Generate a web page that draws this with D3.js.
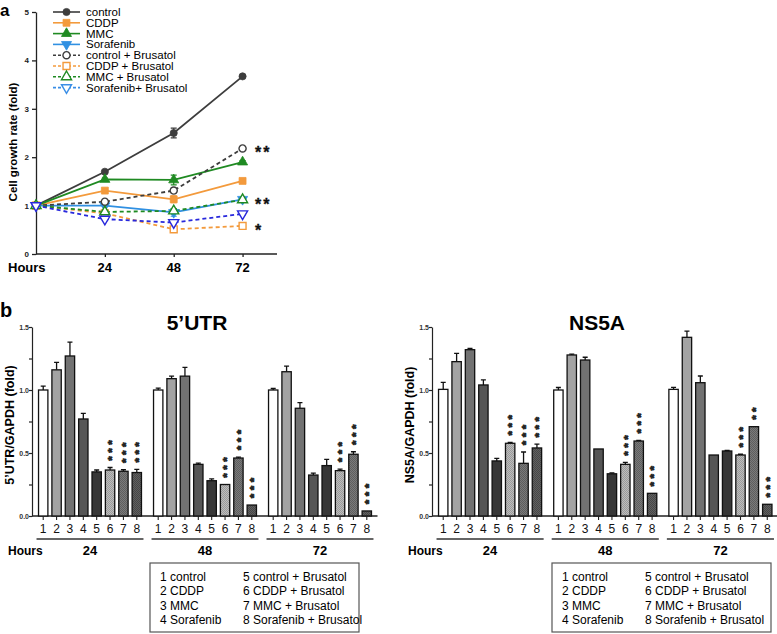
<!DOCTYPE html>
<html><head><meta charset="utf-8">
<script src="https://cdn.jsdelivr.net/npm/d3@7"></script>
<style>
body{margin:0;background:#fff;}
svg{display:block;font-family:"Liberation Sans",Arial,sans-serif;}
</style></head><body>
<script>
// ---------- DATA: panel a (growth curves) ----------
const hours = [0, 24, 48, 72];
const seriesNames = ["control","CDDP","MMC","Sorafenib","control + Brusatol","CDDP + Brusatol","MMC + Brusatol","Sorafenib+ Brusatol"];
const growthControl    = [1, 1.70, 2.50, 3.67];
const growthCDDP       = [1, 1.31, 1.13, 1.51];
const growthMMC        = [1, 1.54, 1.53, 1.90];
const growthSorafenib  = [1, 1.00, 0.86, 1.13];
const growthControlB   = [1, 1.08, 1.31, 2.18];
const growthCDDPB      = [1, 0.84, 0.51, 0.58];
const growthMMCB       = [1, 0.87, 0.89, 1.12];
const growthSorafenibB = [1, 0.72, 0.65, 0.83];
const errControl    = [0, 0.02, 0.10, 0.02];
const errCDDP       = [0, 0.03, 0.07, 0.03];
const errMMC        = [0, 0.03, 0.10, 0.03];
const errSorafenib  = [0, 0.02, 0.08, 0.03];
const errControlB   = [0, 0.02, 0.05, 0.02];
const errCDDPB      = [0, 0.02, 0.03, 0.03];
const errMMCB       = [0, 0.02, 0.05, 0.05];
const errSorafenibB = [0, 0.03, 0.03, 0.02];
const growthYTicks = [0,1,2,3,4,5];
const growthXTicks = [24,48,72];
const growthStars = [{series:4, label:"**"},{series:6, label:"**"},{series:5, label:"*"}];

// ---------- DATA: panel b (bars) ----------
const groupLabels = ["24","48","72"];
const barLabels = ["1","2","3","4","5","6","7","8"];
const utr24 = [1.00,1.16,1.27,0.77,0.35,0.365,0.355,0.345];
const utr48 = [1.00,1.09,1.11,0.41,0.28,0.25,0.46,0.087];
const utr72 = [1.00,1.145,0.855,0.325,0.40,0.36,0.49,0.04];
const utr24Err = [0.03,0.06,0.11,0.045,0.015,0.02,0.012,0.025];
const utr48Err = [0.015,0.02,0.07,0.01,0.015,0,0.008,0];
const utr72Err = [0.012,0.045,0.045,0.015,0.05,0.012,0.02,0];
const utrStars = [[0,0,0,0,0,3,3,3],[0,0,0,0,0,3,3,3],[0,0,0,0,0,3,3,3]];
const ns24 = [1.005,1.225,1.32,1.04,0.437,0.577,0.418,0.54];
const ns48 = [1.00,1.278,1.238,0.532,0.335,0.41,0.595,0.18];
const ns72 = [1.005,1.418,1.058,0.484,0.516,0.484,0.709,0.093];
const ns24Err = [0.055,0.065,0.01,0.04,0.02,0.008,0.09,0.03];
const ns48Err = [0.02,0.007,0.022,0,0.007,0.015,0.005,0];
const ns72Err = [0.016,0.05,0.053,0,0.005,0.006,0,0];
const nsStars = [[0,0,0,0,0,3,3,3],[0,0,0,0,0,3,3,3],[0,0,0,0,0,3,2,3]];
const barYTicks = [0,0.25,0.5,0.75,1.0,1.25,1.5];
const legendCol1 = ["1 control","2 CDDP","3 MMC","4 Sorafenib"];
const legendCol2 = ["5 control + Brusatol","6 CDDP + Brusatol","7 MMC + Brusatol","8 Sorafenib + Brusatol"];

// ---------- DRAW ----------
const W = 777, H = 634;
const svg = d3.select("body").append("svg").attr("width", W).attr("height", H);
const FONT = '"Liberation Sans",Arial,sans-serif';

const defs = svg.append("defs");
function dotPattern(id, base, dot){
  const p = defs.append("pattern").attr("id", id).attr("width", 2).attr("height", 2).attr("patternUnits","userSpaceOnUse");
  p.append("rect").attr("width",2).attr("height",2).attr("fill",base);
  p.append("rect").attr("width",1).attr("height",1).attr("fill",dot);
  p.append("rect").attr("x",1).attr("y",1).attr("width",1).attr("height",1).attr("fill",dot);
}
dotPattern("p6", "#bdbdbd", "#9a9a9a");
dotPattern("p7", "#7a7a7a", "#5e5e5e");
dotPattern("p8", "#606060", "#474747");
const barFills = ["#ffffff","#a3a3a3","#727272","#565656","#373737","url(#p6)","url(#p7)","url(#p8)"];

// ===== Panel a =====
const gSeries = [
  {v:growthControl, e:errControl, color:"#3d3d3d", dash:null, sym:"circle", open:false},
  {v:growthCDDP, e:errCDDP, color:"#f39a3c", dash:null, sym:"square", open:false},
  {v:growthMMC, e:errMMC, color:"#1f8a22", dash:null, sym:"tri", open:false},
  {v:growthSorafenib, e:errSorafenib, color:"#3090e2", dash:null, sym:"triDown", open:false},
  {v:growthControlB, e:errControlB, color:"#3d3d3d", dash:"4,3", sym:"circle", open:true},
  {v:growthCDDPB, e:errCDDPB, color:"#f39a3c", dash:"4,3", sym:"square", open:true},
  {v:growthMMCB, e:errMMCB, color:"#1f8a22", dash:"4,3", sym:"tri", open:true},
  {v:growthSorafenibB, e:errSorafenibB, color:"#2828dc", legendColor:"#3a8ee6", dash:"4,3", sym:"triDown", open:true}
];
const xa = d3.scaleLinear().domain([0,84]).range([36,277]);
const ya = d3.scaleLinear().domain([0,5]).range([254,12]);

svg.append("text").attr("x",0).attr("y",16).attr("font-size",17).attr("font-weight","bold").text("a");

const ayAxis = svg.append("g").attr("transform","translate(36,0)")
  .call(d3.axisLeft(ya).tickValues(growthYTicks).tickSize(4).tickSizeOuter(0).tickFormat(d3.format("d")));
ayAxis.selectAll("text").attr("font-size",8).attr("font-weight","bold").attr("font-family",FONT).attr("fill","#222");
ayAxis.selectAll("path,line").attr("stroke","#222").attr("stroke-width",1.3);
const axAxis = svg.append("g").attr("transform","translate(0,254)")
  .call(d3.axisBottom(xa).tickValues(growthXTicks).tickSize(3).tickSizeOuter(0).tickFormat(""));
axAxis.select("path").attr("d","M36,0H277");
axAxis.selectAll("path,line").attr("stroke","#222").attr("stroke-width",1.3);
growthXTicks.forEach(t=>{
  svg.append("text").attr("x",xa(t)).attr("y",272).attr("text-anchor","middle").attr("font-size",13).attr("font-weight","bold").text(t);
});
svg.append("text").attr("x",8).attr("y",272).attr("font-size",13).attr("font-weight","bold").text("Hours");
svg.append("text").attr("transform","translate(17,142) rotate(-90)").attr("text-anchor","middle")
  .attr("font-size",11.5).attr("font-weight","bold").text("Cell growth rate (fold)");

function symPath(sym){
  if(sym==="circle") return d3.symbol(d3.symbolCircle, 40)();
  if(sym==="square") return d3.symbol(d3.symbolSquare, 48)();
  return d3.symbol(d3.symbolTriangle, 44)();
}
function drawMarker(g, s, x, y){
  g.append("path").attr("d", symPath(s.sym))
    .attr("transform", `translate(${x},${y})` + (s.sym==="triDown" ? " rotate(180)" : ""))
    .attr("fill", s.open ? "#fff" : s.color)
    .attr("stroke", s.color).attr("stroke-width", s.open ? 1.4 : 0.8);
}
const line = d3.line().x((d,i)=>xa(hours[i])).y(d=>ya(d));
const linesG = svg.append("g");
gSeries.forEach(s=>{
  linesG.append("path").attr("d", line(s.v)).attr("fill","none").attr("stroke",s.color)
    .attr("stroke-width",1.8).attr("stroke-dasharray",s.dash);
});
gSeries.forEach(s=>{
  s.v.forEach((v,i)=>{
    if(s.e[i]>0){
      const x = xa(hours[i]);
      linesG.append("path").attr("d",`M${x},${ya(v-s.e[i])}V${ya(v+s.e[i])}M${x-3},${ya(v-s.e[i])}H${x+3}M${x-3},${ya(v+s.e[i])}H${x+3}`)
        .attr("stroke",s.color).attr("stroke-width",1.2).attr("fill","none");
    }
  });
});
gSeries.forEach(s=>{ s.v.forEach((v,i)=> drawMarker(linesG, s, xa(hours[i]), ya(v))); });
growthStars.forEach(st=>{
  const v = gSeries[st.series].v[3];
  svg.append("text").attr("x",255).attr("y",ya(v)+10).attr("font-size",16).attr("font-weight","bold")
    .attr("letter-spacing",2).attr("stroke","#111").attr("stroke-width",0.3).attr("fill","#111").text(st.label);
});
seriesNames.forEach((n,i)=>{
  const s = gSeries[i];
  const y = 12 + i*10.8;
  const col = s.legendColor || s.color;
  const lg = svg.append("g");
  lg.append("line").attr("x1",53).attr("x2",80).attr("y1",y).attr("y2",y).attr("stroke",col)
    .attr("stroke-width",1.6).attr("stroke-dasharray",s.dash ? "3,2" : null);
  drawMarker(lg, Object.assign({}, s, {color: col}), 66.5, y);
  lg.append("text").attr("x",86).attr("y",y).attr("dy","0.35em").attr("font-size",11.5).text(n);
});

// ===== Panel b =====
svg.append("text").attr("x",0).attr("y",317).attr("font-size",20).attr("font-weight","bold").text("b");
const yb = d3.scaleLinear().domain([0,1.5]).range([516,327]);

function drawPanel(o){
  const g = svg.append("g");
  const gx = d3.scaleBand().domain(groupLabels).range(o.range).paddingInner(0.07).paddingOuter(0.035);
  const bx = d3.scaleBand().domain(barLabels).range([0, gx.bandwidth()]).paddingInner(0.3).paddingOuter(0.15);
  g.append("text").attr("x",o.titleX).attr("y",330).attr("text-anchor","middle").attr("font-size",21).attr("font-weight","bold").text(o.title);
  const ay = g.append("g").attr("transform",`translate(${o.axisX},0)`)
    .call(d3.axisLeft(yb).tickValues(barYTicks).tickSize(3).tickSizeOuter(0)
      .tickFormat(d => (Math.round(d*100)%50===0) ? d3.format(".1f")(d) : ""));
  ay.selectAll("text").attr("font-size",7).attr("font-weight","bold").attr("font-family",FONT).attr("fill","#333").attr("x",-3);
  ay.selectAll("path,line").attr("stroke","#222").attr("stroke-width",1.2);
  g.append("text").attr("transform",`translate(${o.ytitleX},425) rotate(-90)`).attr("text-anchor","middle")
    .attr("font-size",12.5).attr("font-weight","bold").text(o.ytitle);
  g.append("line").attr("x1",o.axisX).attr("x2",o.range[1]).attr("y1",yb(0)).attr("y2",yb(0)).attr("stroke","#222").attr("stroke-width",1.3);
  groupLabels.forEach((gl,gi)=>{
    const gx0 = gx(gl);
    const vals = o.values[gi], errs = o.errs[gi], stars = o.stars[gi];
    barLabels.forEach((bl,bi)=>{
      const x = gx0 + bx(bl), w = bx.bandwidth(), cx = x + w/2;
      const v = vals[bi], e = errs[bi];
      if(e>0){
        g.append("path").attr("d",`M${cx},${yb(v)}V${yb(v+e)}M${cx-2.5},${yb(v+e)}H${cx+2.5}`)
          .attr("stroke","#111").attr("stroke-width",1.3).attr("fill","none");
      }
      g.append("rect").attr("x",x).attr("y",yb(v)).attr("width",w).attr("height",yb(0)-yb(v))
        .attr("fill",barFills[bi]).attr("stroke","#111").attr("stroke-width",1.3);
      g.append("line").attr("x1",cx).attr("x2",cx).attr("y1",yb(0)).attr("y2",yb(0)+4).attr("stroke","#222").attr("stroke-width",1.1);
      g.append("text").attr("x",cx).attr("y",533).attr("text-anchor","middle").attr("font-size",12).attr("fill","#111").text(bl);
      const n = stars[bi];
      if(n>0){
        const top = yb(v+e);
        const y0 = top - 9 + 2.2;
        g.append("text").attr("transform",`translate(${cx},${y0}) rotate(-90)`)
          .attr("dy","0.55em").attr("font-size",11.5).attr("font-weight","bold").attr("letter-spacing",3.5)
          .attr("fill","#222").attr("stroke","#222").attr("stroke-width",0.7)
          .text("*".repeat(n));
      }
    });
    g.append("line").attr("x1",gx0).attr("x2",gx0+gx.bandwidth()).attr("y1",539).attr("y2",539).attr("stroke","#333").attr("stroke-width",1.5);
    g.append("text").attr("x",gx0+gx.bandwidth()/2).attr("y",555).attr("text-anchor","middle").attr("font-size",13).attr("font-weight","bold").text(gl);
  });
  g.append("text").attr("x",o.hoursX).attr("y",555).attr("font-size",12).attr("font-weight","bold").text("Hours");
  g.append("rect").attr("x",o.box[0]).attr("y",563).attr("width",o.box[1]).attr("height",69)
    .attr("fill","#fff").attr("stroke","#555").attr("stroke-width",1.2);
  legendCol1.forEach((t,i)=> g.append("text").attr("x",o.box[0]+10).attr("y",581+i*14.4).attr("font-size",12).text(t));
  legendCol2.forEach((t,i)=> g.append("text").attr("x",o.box[0]+93).attr("y",581+i*14.4).attr("font-size",12).text(t));
}

drawPanel({range:[32.5,377.5], axisX:32, title:"5’UTR", titleX:197, ytitle:"5’UTR/GAPDH (fold)", ytitleX:14,
  values:[utr24,utr48,utr72], errs:[utr24Err,utr48Err,utr72Err], stars:utrStars, hoursX:8, box:[150,209]});
drawPanel({range:[432.5,778], axisX:432, title:"NS5A", titleX:597, ytitle:"NS5A/GAPDH (fold)", ytitleX:414,
  values:[ns24,ns48,ns72], errs:[ns24Err,ns48Err,ns72Err], stars:nsStars, hoursX:408, box:[552,219]});
</script>
</body></html>
